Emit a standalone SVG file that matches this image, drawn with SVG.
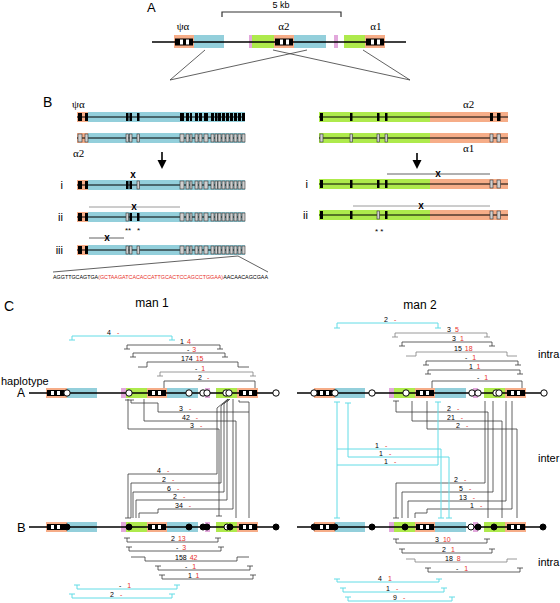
<svg xmlns="http://www.w3.org/2000/svg" width="560" height="603" viewBox="0 0 560 603">
<style>
.t{font-family:"Liberation Sans",Arial,sans-serif;fill:#000}
.g{font-family:"Liberation Serif","Times New Roman",serif;font-size:11px;fill:#000}
.n{font-family:"Liberation Sans",Arial,sans-serif;font-size:7px;fill:#000}
.r{fill:#e8322a}
.or{fill:#f6ad88}.bl{fill:#93cfdb}.gr{fill:#aeea4c}.pk{fill:#e2a8dc}
.hl{stroke:#000;stroke-width:1.6;fill:none}
.cl{stroke:#000;stroke-width:1;fill:none}
.k{fill:#000}
.gx{fill:#cfcfcf;stroke:#333;stroke-width:0.6}
.br{fill:none;stroke:#3a3a3a;stroke-width:0.8}
.bg{fill:none;stroke:#808080;stroke-width:0.8}
.cy{fill:none;stroke:#62dce6;stroke-width:1}
.wc{fill:#fff;stroke:#000;stroke-width:1}
.bc{fill:#000;stroke:#000;stroke-width:1}
.x{font-family:"Liberation Sans",Arial,sans-serif;font-size:10px;font-weight:bold;text-anchor:middle}
</style>
<defs>
<g id="clu"><rect x="180" y="0" width="4" height="8"/><rect x="186" y="0" width="3" height="8"/><rect x="190" y="0" width="2" height="8"/><rect x="195" y="0" width="3" height="8"/><rect x="199" y="0" width="3" height="8"/><rect x="204" y="0" width="4" height="8"/><rect x="211" y="0" width="3" height="8"/><rect x="215" y="0" width="2.5" height="8"/><rect x="218" y="0" width="3" height="8"/><rect x="222" y="0" width="3" height="8"/><rect x="226" y="0" width="3" height="8"/><rect x="230" y="0" width="3" height="8"/><rect x="234" y="0" width="3" height="8"/><rect x="238" y="0" width="3" height="8"/><rect x="242" y="0" width="3" height="8"/></g>
<g id="eb"><rect width="18" height="6" fill="#000"/><rect x="4" y="1" width="3" height="4" fill="#fff"/><rect x="10" y="1" width="3" height="4" fill="#fff"/></g>
</defs>

<!-- Section A -->
<g id="sectionA">
<text class="t" x="147" y="12" font-size="13">A</text>
<text class="t" x="281" y="8" font-size="9" text-anchor="middle">5 kb</text>
<path d="M222,17V12H341V17" fill="none" stroke="#333" stroke-width="1.2"/>
<rect class="or" x="174" y="35" width="20" height="13"/><rect class="bl" x="194" y="35" width="30" height="13"/>
<rect class="pk" x="249" y="35" width="3" height="13"/><rect class="gr" x="252" y="35" width="22" height="13"/><rect class="or" x="274" y="35" width="20" height="13"/><rect class="bl" x="294" y="35" width="32" height="13"/>
<rect class="pk" x="334" y="35" width="4" height="13"/>
<rect class="gr" x="344" y="35" width="21" height="13"/><rect class="or" x="365" y="35" width="20" height="13"/>
<path class="hl" d="M152,42H406"/>
<rect x="175" y="38.5" width="18" height="7" class="k"/><rect x="180" y="39.5" width="3" height="5" fill="#fff"/><rect x="186" y="39.5" width="3" height="5" fill="#fff"/>
<rect x="275" y="38.5" width="18" height="7" class="k"/><rect x="280" y="39.5" width="3" height="5" fill="#fff"/><rect x="286" y="39.5" width="3" height="5" fill="#fff"/>
<rect x="366" y="38.5" width="18" height="7" class="k"/><rect x="371" y="39.5" width="3" height="5" fill="#fff"/><rect x="377" y="39.5" width="3" height="5" fill="#fff"/>
<text class="g" x="183" y="30" text-anchor="middle">ψα</text>
<text class="g" x="284" y="30" text-anchor="middle">α2</text>
<text class="g" x="376" y="30" text-anchor="middle">α1</text>
<path class="br" d="M205,50L170,80M307,50L170,80M273,50L410,80M363,50L410,80"/>
</g>

<!-- Section B left -->
<g id="sectionB-left">
<text class="t" x="43" y="107" font-size="14">B</text>
<text class="g" x="72" y="108">ψα</text>
<text class="g" x="73" y="157">α2</text>
<g id="bl-row1">
<rect class="or" x="77" y="112" width="11" height="10"/><rect class="bl" x="88" y="112" width="157" height="10"/><path class="cl" d="M77,117H245"/>
<rect class="k" x="78" y="113" width="4" height="8"/><rect class="k" x="85" y="113" width="3" height="8"/><rect class="k" x="126" y="113" width="2.5" height="8"/><rect class="k" x="129.5" y="113" width="2.5" height="8"/><rect class="k" x="137" y="113" width="2.5" height="8"/>
<use href="#clu" y="113" class="k"/>
</g>
<g id="bl-row2">
<rect class="or" x="77" y="133" width="11" height="10"/><rect class="bl" x="88" y="133" width="157" height="10"/><path class="cl" d="M77,138H245"/>
<rect class="gx" x="78" y="134" width="4" height="8"/><rect class="gx" x="85" y="134" width="3" height="8"/><rect class="gx" x="126" y="134" width="2.5" height="8"/><rect class="gx" x="129.5" y="134" width="2.5" height="8"/><rect class="gx" x="137" y="134" width="2.5" height="8"/>
<use href="#clu" y="134" class="gx"/>
</g>
<path d="M162,152V162" stroke="#000" stroke-width="1.6"/><path d="M157.5,160L166.5,160L162,169Z" class="k"/>
<g id="bl-i">
<text class="t" x="63" y="189" font-size="11" text-anchor="end">i</text>
<rect class="or" x="77" y="180" width="11" height="10"/><rect class="bl" x="88" y="180" width="157" height="10"/><path class="cl" d="M77,185H245"/>
<rect class="k" x="78" y="181" width="4" height="8"/><rect class="k" x="85" y="181" width="3" height="8"/><rect class="k" x="126" y="181" width="2.5" height="8"/><rect class="k" x="129.5" y="181" width="2.5" height="8"/><rect class="gx" x="137" y="181" width="2.5" height="8"/>
<use href="#clu" y="181" class="gx"/>
<text class="x" x="133" y="178">x</text>
</g>
<g id="bl-ii">
<text class="t" x="63" y="221" font-size="11" text-anchor="end">ii</text>
<path class="bg" d="M89,207H180"/>
<text class="x" x="134" y="210">x</text>
<rect class="or" x="77" y="212" width="11" height="10"/><rect class="bl" x="88" y="212" width="157" height="10"/><path class="cl" d="M77,217H245"/>
<rect class="k" x="78" y="213" width="4" height="8"/><rect class="k" x="85" y="213" width="3" height="8"/><rect class="gx" x="126" y="213" width="2.5" height="8"/><rect class="k" x="129.5" y="213" width="2.5" height="8"/><rect class="k" x="137" y="213" width="2.5" height="8"/>
<use href="#clu" y="213" class="gx"/>
<text class="t" x="125" y="233" font-size="8">**</text><text class="t" x="137" y="233" font-size="8">*</text>
</g>
<g id="bl-iii">
<text class="t" x="63" y="254" font-size="11" text-anchor="end">iii</text>
<path class="br" d="M89,238H124"/>
<text class="x" x="107" y="241">x</text>
<rect class="or" x="77" y="245" width="11" height="10"/><rect class="bl" x="88" y="245" width="157" height="10"/><path class="cl" d="M77,250H245"/>
<rect class="k" x="78" y="246" width="4" height="8"/><rect class="k" x="85" y="246" width="3" height="8"/><rect class="gx" x="126" y="246" width="2.5" height="8"/><rect class="gx" x="129.5" y="246" width="2.5" height="8"/><rect class="gx" x="137" y="246" width="2.5" height="8"/>
<use href="#clu" y="246" class="gx"/>
</g>
<path class="br" d="M238,256L53,272M238,256L268,272"/>
<text class="t" x="53" y="279" font-size="5.5" textLength="215" lengthAdjust="spacingAndGlyphs">AGGTTGCAGTGA<tspan class="r">(GCTAAGATCACACCATTGCACTCCAGCCTGGAA)</tspan>AACAACAGCGAA</text>
</g>

<!-- Section B right -->
<g id="sectionB-right">
<text class="g" x="463" y="108">α2</text>
<text class="g" x="463" y="152">α1</text>
<g id="br-row1">
<rect class="gr" x="319" y="112" width="111" height="10"/><rect class="or" x="430" y="112" width="78" height="10"/><path class="cl" d="M319,117H508"/>
<rect class="k" x="320" y="113" width="3" height="8"/><rect class="k" x="350" y="113" width="2.5" height="8"/><rect class="k" x="377" y="113" width="2.5" height="8"/><rect class="k" x="385" y="113" width="2.5" height="8"/><rect class="k" x="490" y="113" width="3" height="8"/><rect class="k" x="497" y="113" width="3.5" height="8"/>
</g>
<g id="br-row2">
<rect class="gr" x="319" y="133" width="111" height="10"/><rect class="or" x="430" y="133" width="78" height="10"/><path class="cl" d="M319,138H508"/>
<rect class="gx" x="320" y="134" width="3" height="8"/><rect class="gx" x="350" y="134" width="2.5" height="8"/><rect class="gx" x="377" y="134" width="2.5" height="8"/><rect class="gx" x="385" y="134" width="2.5" height="8"/><rect class="gx" x="490" y="134" width="3" height="8"/><rect class="gx" x="497" y="134" width="3.5" height="8"/>
</g>
<path d="M417,153V162" stroke="#000" stroke-width="1.6"/><path d="M412.5,160L421.5,160L417,169Z" class="k"/>
<g id="br-i">
<text class="t" x="308" y="188" font-size="11" text-anchor="end">i</text>
<path class="br" d="M387,174H490"/>
<text class="x" x="438" y="177">x</text>
<rect class="gr" x="319" y="179" width="111" height="10"/><rect class="or" x="430" y="179" width="78" height="10"/><path class="cl" d="M319,184H508"/>
<rect class="k" x="320" y="180" width="3" height="8"/><rect class="k" x="350" y="180" width="2.5" height="8"/><rect class="k" x="377" y="180" width="2.5" height="8"/><rect class="k" x="385" y="180" width="2.5" height="8"/><rect class="gx" x="490" y="180" width="3" height="8"/><rect class="gx" x="497" y="180" width="3.5" height="8"/>
</g>
<g id="br-ii">
<text class="t" x="308" y="219" font-size="11" text-anchor="end">ii</text>
<path class="bg" d="M353,206H490"/>
<text class="x" x="421" y="209">x</text>
<rect class="gr" x="319" y="210" width="111" height="10"/><rect class="or" x="430" y="210" width="78" height="10"/><path class="cl" d="M319,215H508"/>
<rect class="k" x="320" y="211" width="3" height="8"/><rect class="k" x="350" y="211" width="2.5" height="8"/><rect class="gx" x="377" y="211" width="2.5" height="8"/><rect class="k" x="385" y="211" width="2.5" height="8"/><rect class="gx" x="490" y="211" width="3" height="8"/><rect class="gx" x="497" y="211" width="3.5" height="8"/>
<text class="t" x="375" y="234" font-size="8">* *</text>
</g>
</g>

<!-- Section C labels -->
<g id="sectionC-labels">
<text class="t" x="4" y="311" font-size="14">C</text>
<text class="t" x="152" y="307" font-size="12" text-anchor="middle">man 1</text>
<text class="t" x="420" y="309" font-size="12" text-anchor="middle">man 2</text>
<text class="t" x="1" y="385" font-size="11">haplotype</text>
<text class="t" x="17" y="397" font-size="12">A</text>
<text class="t" x="17" y="532" font-size="13">B</text>
<text class="t" x="538" y="358" font-size="11">intra</text>
<text class="t" x="538" y="462" font-size="11">inter</text>
<text class="t" x="538" y="566" font-size="11">intra</text>
</g>

<!-- Haplotypes man 1 -->
<g id="m1-A">
<rect class="or" x="46" y="388" width="21" height="10"/><rect class="bl" x="67" y="388" width="30" height="10"/>
<rect class="pk" x="121" y="388" width="5" height="10"/><rect class="gr" x="126" y="388" width="21" height="10"/><rect class="or" x="147" y="388" width="20" height="10"/><rect class="bl" x="167" y="388" width="31" height="10"/>
<rect class="pk" x="205" y="388" width="5" height="10"/>
<rect class="gr" x="216" y="388" width="21" height="10"/><rect class="or" x="237" y="388" width="21" height="10"/>
<path class="hl" d="M29,393H276"/>
<use href="#eb" x="47" y="390"/><use href="#eb" x="148" y="390"/><use href="#eb" x="239" y="390"/>
<circle class="wc" cx="67" cy="393" r="3.2"/><circle class="wc" cx="129" cy="393" r="3.2"/><circle class="wc" cx="189" cy="393" r="3.2"/><circle class="wc" cx="203" cy="393" r="3.2"/><circle class="wc" cx="207" cy="393" r="3.2"/><circle class="wc" cx="226" cy="393" r="3.2"/><circle class="wc" cx="229" cy="393" r="3.2"/><circle class="wc" cx="276" cy="393" r="3.2"/>
</g>
<g id="m1-B">
<rect class="or" x="46" y="522" width="21" height="10"/><rect class="bl" x="67" y="522" width="30" height="10"/>
<rect class="pk" x="121" y="522" width="5" height="10"/><rect class="gr" x="126" y="522" width="21" height="10"/><rect class="or" x="147" y="522" width="20" height="10"/><rect class="bl" x="167" y="522" width="31" height="10"/>
<rect class="pk" x="205" y="522" width="5" height="10"/>
<rect class="gr" x="216" y="522" width="21" height="10"/><rect class="or" x="237" y="522" width="21" height="10"/>
<path class="hl" d="M29,527H276"/>
<use href="#eb" x="47" y="524"/><use href="#eb" x="148" y="524"/><use href="#eb" x="239" y="524"/>
<circle class="bc" cx="67" cy="527" r="3"/><circle class="bc" cx="129" cy="527" r="3"/><circle class="bc" cx="189" cy="527" r="3"/><circle class="bc" cx="203" cy="527" r="3"/><circle class="bc" cx="207" cy="527" r="3"/><circle class="wc" cx="227" cy="527" r="3"/><circle class="bc" cx="230" cy="527" r="3"/><circle class="bc" cx="276" cy="527" r="3"/>
</g>

<!-- Haplotypes man 2 -->
<g id="m2-A">
<rect class="or" x="314" y="388" width="21" height="10"/><rect class="bl" x="335" y="388" width="30" height="10"/>
<rect class="pk" x="389" y="388" width="5" height="10"/><rect class="gr" x="394" y="388" width="21" height="10"/><rect class="or" x="415" y="388" width="20" height="10"/><rect class="bl" x="435" y="388" width="31" height="10"/>
<rect class="pk" x="473" y="388" width="5" height="10"/>
<rect class="gr" x="484" y="388" width="21" height="10"/><rect class="or" x="505" y="388" width="21" height="10"/>
<path class="hl" d="M297,393H544"/>
<use href="#eb" x="316" y="390"/><use href="#eb" x="416" y="390"/><use href="#eb" x="507" y="390"/>
<circle class="wc" cx="314" cy="393" r="3.2"/><circle class="wc" cx="335" cy="393" r="3.2"/><circle class="wc" cx="372" cy="393" r="3.2"/><circle class="wc" cx="406" cy="393" r="3.2"/><circle class="wc" cx="472" cy="393" r="3.2"/><circle class="wc" cx="478" cy="393" r="3.2"/><circle class="wc" cx="496" cy="393" r="3.2"/><circle class="wc" cx="499" cy="393" r="3.2"/><circle class="wc" cx="544" cy="393" r="3.2"/>
</g>
<g id="m2-B">
<rect class="or" x="314" y="522" width="21" height="10"/><rect class="bl" x="335" y="522" width="30" height="10"/>
<rect class="pk" x="389" y="522" width="5" height="10"/><rect class="gr" x="394" y="522" width="21" height="10"/><rect class="or" x="415" y="522" width="20" height="10"/><rect class="bl" x="435" y="522" width="31" height="10"/>
<rect class="pk" x="473" y="522" width="5" height="10"/>
<rect class="gr" x="484" y="522" width="21" height="10"/><rect class="or" x="505" y="522" width="21" height="10"/>
<path class="hl" d="M297,527H544"/>
<use href="#eb" x="316" y="524"/><use href="#eb" x="416" y="524"/><use href="#eb" x="507" y="524"/>
<circle class="bc" cx="314" cy="527" r="3"/><circle class="bc" cx="335" cy="527" r="3"/><circle class="bc" cx="372" cy="527" r="3"/><circle class="bc" cx="405" cy="527" r="3"/><circle class="wc" cx="471" cy="527" r="3"/><circle class="bc" cx="478" cy="527" r="3"/><circle class="bc" cx="494" cy="527" r="3"/><circle class="bc" cx="543" cy="527" r="3"/>
</g>

<!-- Connectors -->
<g id="connectors">
<!-- man 1 intra above A -->
<path class="cy" d="M72,340V336H172V340M69,340H75M169,340H175"/>
<path class="br" d="M127,349V345H220V349M124,349H130M217,349H223"/>
<path class="br" d="M133,357V353H225V357M130,357H136M222,357H228"/>
<path class="br" d="M138,367H147V362H238V367H249"/>
<path class="bg" d="M160,376V372H253V376M157,376H163M250,376H256"/>
<path class="br" d="M164,388V381H255V388"/>
<!-- man 1 inter -->
<path class="br" d="M125,400H134M131,400V403H158V412H249M239,400V402H249V518"/>
<path class="br" d="M144,399V421H236V518"/>
<path class="br" d="M128,399V429H219V516M216,516H222"/>
<path class="br" d="M228,399L217,408V474H128V518M125,518H131"/>
<path class="br" d="M228,399L221,406V483H131V518"/>
<path class="br" d="M229,399L224,404V492H133V518"/>
<path class="br" d="M230,399L227,402V500H136V518"/>
<path class="br" d="M233,399V509H158V513H139V518"/>
<!-- man 1 intra below B -->
<path class="br" d="M127,538V542H218V538M124,538H130M215,538H221"/>
<path class="br" d="M129,547V551H221V547M126,547H132M218,547H224"/>
<path class="br" d="M131,557H145V561H237V557H249"/>
<path class="br" d="M158,566V570H250V566M155,566H161M247,566H253"/>
<path class="br" d="M162,575V579H253V575M159,575H165M250,575H256"/>
<path class="cy" d="M77,585V589H177V585M74,585H80M174,585H180"/>
<path class="cy" d="M72,594V598H172V594M69,594H75M169,594H175"/>
<!-- man 2 intra above A -->
<path class="cy" d="M337,328V323H438V328M334,328H340M435,328H441"/>
<path class="bg" d="M395,337V333H487V337M392,337H398M484,337H490"/>
<path class="br" d="M402,346V342H492V346M399,346H405M489,346H495"/>
<path class="bg" d="M406,356H416V352H507V356H517"/>
<path class="br" d="M426,365V361H518V365M423,365H429M515,365H521"/>
<path class="br" d="M428,374V370H520V374M425,374H431M517,374H523"/>
<path class="br" d="M432,388V381H522V388"/>
<!-- man 2 inter black -->
<path class="br" d="M393,401H399M396,401V412H488V518"/>
<path class="br" d="M412,401V421H502V518"/>
<path class="br" d="M427,401V429H517V518"/>
<path class="br" d="M485,401V483H396V518M393,518H399"/>
<path class="br" d="M493,401V492H402V518"/>
<path class="br" d="M506,401V501H408V518"/>
<path class="br" d="M512,401V509H427V513H415V518"/>
<!-- man 2 inter cyan -->
<path class="cy" d="M334,402H340M337,402V518M334,518H340M337,449H441V518M438,518H444"/>
<path class="cy" d="M345,403H351M348,403V457H449V518M446,518H452"/>
<path class="cy" d="M435,402H441M438,402V465H337"/>
<!-- man 2 intra below B -->
<path class="br" d="M396,539V543H487V539M393,539H399M484,539H490"/>
<path class="br" d="M402,549V553H492V549M399,549H405M489,549H495"/>
<path class="bg" d="M406,559H415V562H507V559H517"/>
<path class="br" d="M428,568V572H520V568M425,568H431M517,568H523"/>
<path class="cy" d="M337,579V582H439V579M334,579H340M436,579H442"/>
<path class="cy" d="M343,588V592H444V588M340,588H346M441,588H447"/>
<path class="cy" d="M348,597V601H452V597M345,597H351M449,597H455"/>
</g>

<!-- Count labels -->
<g id="labels">
<text class="n" x="107" y="334.5">4<tspan class="r" dx="6">-</tspan></text>
<text class="n" x="180" y="343.5">1<tspan class="r" dx="3">4</tspan></text>
<text class="n" x="187" y="351.5">-<tspan class="r" dx="3">3</tspan></text>
<text class="n" x="181" y="360.5">174<tspan class="r" dx="3">15</tspan></text>
<text class="n" x="195" y="370.5">-<tspan class="r" dx="4">1</tspan></text>
<text class="n" x="198" y="379.5">2<tspan class="r" dx="5">-</tspan></text>

<text class="n" x="179" y="410.5">3<tspan class="r" dx="6">-</tspan></text>
<text class="n" x="182" y="419.5">42<tspan class="r" dx="6">-</tspan></text>
<text class="n" x="190" y="427.5">3<tspan class="r" dx="6">-</tspan></text>
<text class="n" x="157" y="472.5">4<tspan class="r" dx="6">-</tspan></text>
<text class="n" x="162" y="481.5">2<tspan class="r" dx="6">-</tspan></text>
<text class="n" x="167" y="490.5">6<tspan class="r" dx="6">-</tspan></text>
<text class="n" x="173" y="498.5">2<tspan class="r" dx="6">-</tspan></text>
<text class="n" x="175" y="507.5">34<tspan class="r" dx="6">-</tspan></text>

<text class="n" x="171" y="540.5">2<tspan class="r" dx="3">13</tspan></text>
<text class="n" x="176" y="549.5">-<tspan class="r" dx="4">3</tspan></text>
<text class="n" x="175" y="559.5">158<tspan class="r" dx="3">42</tspan></text>
<text class="n" x="185" y="568.5">-<tspan class="r" dx="5">1</tspan></text>
<text class="n" x="188" y="577.5">1<tspan class="r" dx="4">1</tspan></text>
<text class="n" x="119" y="587.5">-<tspan class="r" dx="6">1</tspan></text>
<text class="n" x="110" y="596.5">2<tspan class="r" dx="6">-</tspan></text>

<text class="n" x="384" y="321.5">2<tspan class="r" dx="6">-</tspan></text>
<text class="n" x="447" y="331.5">3<tspan class="r" dx="4">5</tspan></text>
<text class="n" x="452" y="340.5">3<tspan class="r" dx="4">1</tspan></text>
<text class="n" x="454" y="350.5">15<tspan class="r" dx="3">18</tspan></text>
<text class="n" x="465" y="359.5">-<tspan class="r" dx="5">1</tspan></text>
<text class="n" x="469" y="368.5">1<tspan class="r" dx="4">1</tspan></text>
<text class="n" x="477" y="379.5">-<tspan class="r" dx="5">1</tspan></text>

<text class="n" x="447" y="410.5">2<tspan class="r" dx="6">-</tspan></text>
<text class="n" x="447" y="419.5">21<tspan class="r" dx="6">-</tspan></text>
<text class="n" x="456" y="427.5">2<tspan class="r" dx="6">-</tspan></text>
<text class="n" x="375" y="447.5">1<tspan class="r" dx="6">-</tspan></text>
<text class="n" x="379" y="455.5">1<tspan class="r" dx="6">-</tspan></text>
<text class="n" x="384" y="463.5">1<tspan class="r" dx="6">-</tspan></text>
<text class="n" x="454" y="481.5">2<tspan class="r" dx="6">-</tspan></text>
<text class="n" x="459" y="490.5">5<tspan class="r" dx="6">-</tspan></text>
<text class="n" x="459" y="499.5">13<tspan class="r" dx="6">-</tspan></text>
<text class="n" x="470" y="507.5">1<tspan class="r" dx="6">-</tspan></text>

<text class="n" x="435" y="541.5">3<tspan class="r" dx="4">10</tspan></text>
<text class="n" x="442" y="551.5">2<tspan class="r" dx="5">1</tspan></text>
<text class="n" x="445" y="560.5">18<tspan class="r" dx="4">8</tspan></text>
<text class="n" x="456" y="570.5">-<tspan class="r" dx="6">1</tspan></text>
<text class="n" x="378" y="580.5">4<tspan class="r" dx="6">1</tspan></text>
<text class="n" x="386" y="590.5">1<tspan class="r" dx="6">-</tspan></text>
<text class="n" x="393" y="599.5">9<tspan class="r" dx="6">-</tspan></text>
</g>
</svg>
